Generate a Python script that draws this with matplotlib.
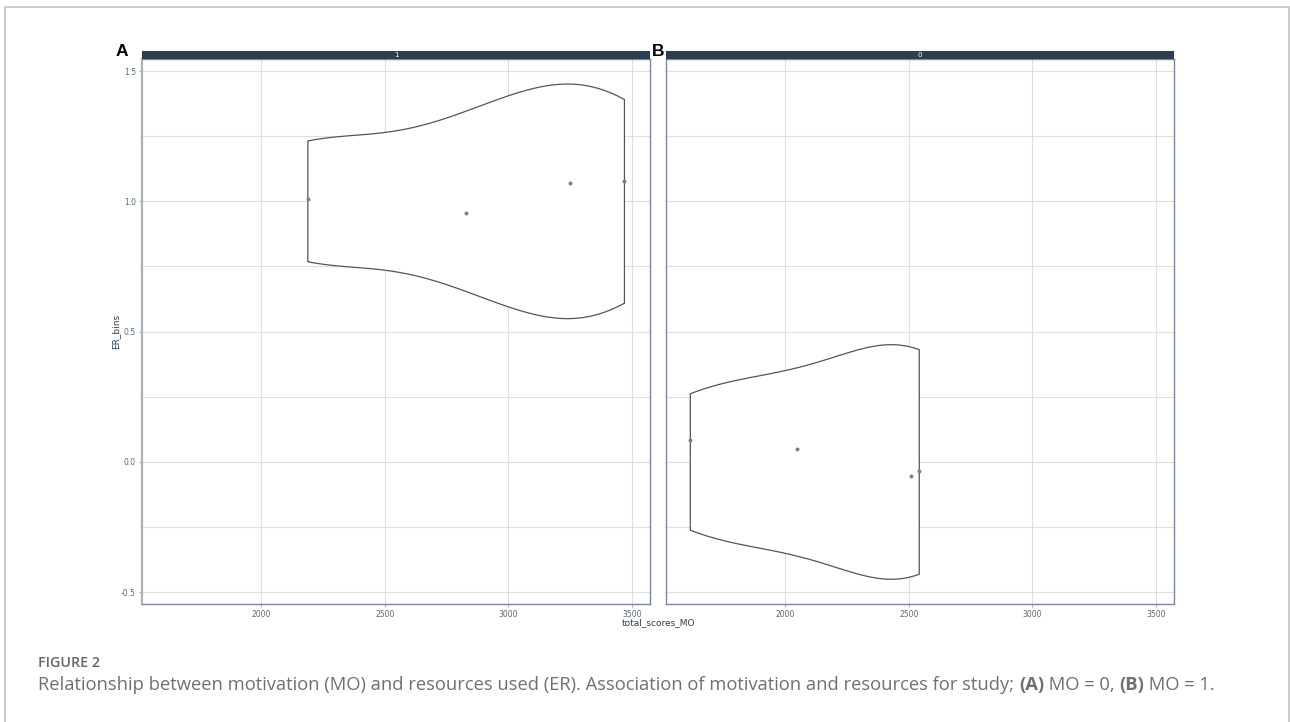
import matplotlib
matplotlib.use('Agg')
import matplotlib.pyplot as plt
import numpy as np
from matplotlib.patches import Rectangle

# Data --------------------------
panel_tags = ['A', 'B']
strip_labels = ['1', '0']
er_centres = [1.0, 0.0]

scores_a = [2188, 2828, 3250, 3470]
er_a = [1.008, 0.954, 1.069, 1.077]
scores_b = [1615, 2045, 2510, 2542]
er_b = [0.084, 0.050, -0.052, -0.033]

x_ticks = [2000, 2500, 3000, 3500]
y_ticks = [-0.5, 0.0, 0.5, 1.0, 1.5]
y_minor = [-0.25, 0.25, 0.75, 1.25]

caption_head = 'FIGURE 2'
caption_parts = [
    ('Relationship between motivation (MO) and resources used (ER). Association of motivation and resources for study; ', 'normal'),
    ('(A)', 'bold'),
    (' MO = 0, ', 'normal'),
    ('(B)', 'bold'),
    (' MO = 1.', 'normal'),
]

W, H = 1290, 722
NAVY = '#2c3e50'
GRID = '#dedede'
TICK_TXT = '#5b6777'
BORDER = '#7d8a9c'


def nrd0(x):
    # R's default bandwidth, as ggplot's violin uses it
    x = np.asarray(x, float)
    q1, q3 = np.percentile(x, [25, 75])
    lo = min(np.std(x, ddof=1), (q3 - q1) / 1.34)
    return 0.9 * lo * len(x) ** (-0.2)


def violin_shape(x):
    x = np.asarray(x, float)
    grid = np.linspace(x.min(), x.max(), 512)
    bw = nrd0(x)
    dens = np.exp(-0.5 * ((grid[:, None] - x[None, :]) / bw) ** 2).sum(axis=1)
    return grid, dens / dens.max() * 0.45


def px_box(x0, y0, x1, y1):
    return [x0 / W, 1 - y1 / H, (x1 - x0) / W, (y1 - y0) / H]


fig = plt.figure(figsize=(W / 100, H / 100), dpi=100)
fig.add_artist(Rectangle((4.5 / W, -0.05), (1288.5 - 4.5) / W, 1.05 - 7 / H,
                         transform=fig.transFigure, fill=False,
                         edgecolor='#c4c4c4', linewidth=1.2))

panels = [(scores_a, er_a), (scores_b, er_b)]
lefts = [142, 666]
tag_x = [121.5, 658]
x_lim = (1516.5, 3573.5)
y_lim = (-0.545, 1.545)

for i, (xs, ys) in enumerate(panels):
    left = lefts[i]
    ax = fig.add_axes(px_box(left, 59.3, left + 508, 604))
    ax.set_xlim(*x_lim)
    ax.set_ylim(*y_lim)

    for t in x_ticks:
        ax.axvline(t, color=GRID, lw=0.8, zorder=0)
    for t in y_ticks + y_minor:
        ax.axhline(t, color=GRID, lw=0.8, zorder=0)

    grid, half = violin_shape(xs)
    c = er_centres[i]
    vx = np.concatenate([grid, grid[::-1], grid[:1]])
    vy = np.concatenate([c + half, c - half[::-1], [c + half[0]]])
    ax.fill(vx, vy, facecolor='white', edgecolor='#555555', lw=0.9, zorder=2)
    ax.scatter(xs, ys, s=8, color='#75808f', zorder=3, linewidths=0)

    ax.set_xticks(x_ticks)
    ax.set_xticklabels([str(t) for t in x_ticks])
    ax.set_yticks(y_ticks)
    ax.tick_params(length=2.5, width=0.6, color='#9aa3ad', labelsize=5.5,
                   labelcolor=TICK_TXT, pad=2)
    if i == 0:
        ax.set_yticklabels(['-0.5', '0.0', '0.5', '1.0', '1.5'])
        ax.set_ylabel('ER_bins', fontsize=6.5, color=NAVY, labelpad=0.5)
    else:
        ax.tick_params(axis='y', length=0, labelleft=False)
    for s in ax.spines.values():
        s.set_color(BORDER)
        s.set_linewidth(1.0)
    if i == 0:
        ax.spines['left'].set_color('#a8b0b8')
        ax.spines['left'].set_linewidth(1.6)

    # facet strip
    sax = fig.add_axes(px_box(left, 50.7, left + 508, 59.3))
    sax.set_facecolor(NAVY)
    sax.set_xticks([])
    sax.set_yticks([])
    for s in sax.spines.values():
        s.set_visible(False)
    sax.text(0.5, 0.45, strip_labels[i], color='white', fontsize=5,
             ha='center', va='center', transform=sax.transAxes)

    fig.text(tag_x[i] / W, 1 - 51 / H, panel_tags[i], fontsize=12.5,
             fontweight='bold', ha='center', va='center', color='black',
             family='Liberation Sans')

fig.text(658 / W, 1 - 623 / H, 'total_scores_MO', fontsize=6.5, color=NAVY,
         ha='center', va='center')

# caption -----
fig.text(38 / W, 1 - 663 / H, caption_head, fontsize=10.3, color='#666666',
         fontweight='semibold', family='Open Sans', va='center')

renderer = fig.canvas.get_renderer()
size = 13.0
# first pass to measure, then rescale so the line spans the same width as the reference
pieces = []
x = 38 / W
for txt, wt in caption_parts:
    t = fig.text(x, 1 - 685 / H, txt, fontsize=size, color='#707070',
                 fontweight=wt, family='Open Sans', va='center')
    x += t.get_window_extent(renderer=renderer).width / W
    pieces.append(t)
scale = (1213 - 38) / ((x * W) - 38)
x = 38 / W
for t in pieces:
    t.set_fontsize(size * scale)
    t.set_x(x)
    x += t.get_window_extent(renderer=renderer).width / W

fig.savefig('out.png', dpi=100)
